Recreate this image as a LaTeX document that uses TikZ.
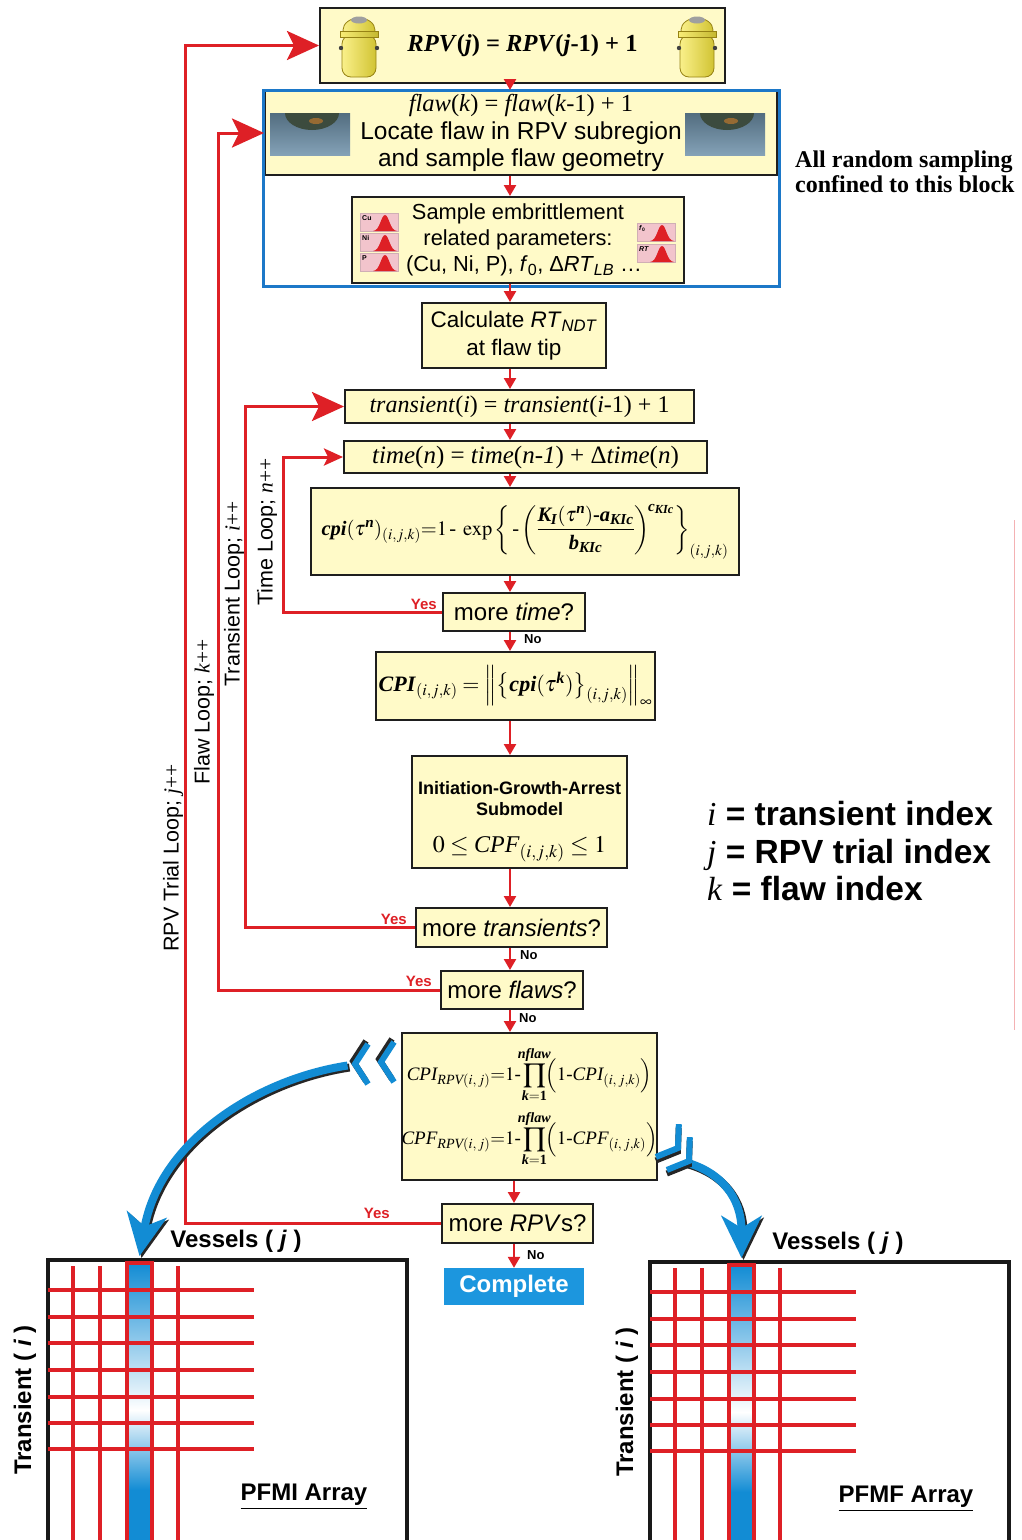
\documentclass[tikz,border=0pt]{standalone}
\usepackage{amsmath}
\usepackage{mathtools}
\usepackage{mathptmx}
\usepackage{fontspec}
\setmainfont{Liberation Serif}
\setsansfont{Liberation Sans}
\usetikzlibrary{arrows.meta,positioning,calc}

\definecolor{boxfill}{RGB}{255,250,200}
\definecolor{boxedge}{RGB}{30,30,30}
\definecolor{flowred}{RGB}{222,32,38}
\definecolor{frameblue}{RGB}{28,120,200}
\definecolor{doneblue}{RGB}{28,150,222}
\definecolor{colblue}{RGB}{18,140,212}
\definecolor{iconpink}{RGB}{242,196,204}
\definecolor{vesselyellow}{RGB}{246,230,60}
\definecolor{vesseledge}{RGB}{150,130,20}
\definecolor{photoblue}{RGB}{110,145,170}
\definecolor{photodark}{RGB}{60,75,62}

\newcommand{\fsz}[2]{\fontsize{#1}{#2}\selectfont}
\newcommand{\bfit}[1]{\textbf{\textit{#1}}}

\begin{document}
\begin{tikzpicture}[x=1pt, y=-1pt,
  box/.style={draw=boxedge, line width=2pt, fill=boxfill, inner sep=0pt, align=center},
  flow/.style={draw=flowred, line width=2.4pt, -{Triangle[length=11pt,width=12pt]}},
  loopline/.style={draw=flowred, line width=3pt},
  bigtip/.style={-{Stealth[length=32pt,width=29pt,inset=7pt]}},
  smalltip/.style={-{Stealth[length=19pt,width=17pt,inset=4pt]}},
  yes/.style={text=flowred, font=\sffamily\bfseries\fsz{15}{16}, inner sep=0pt},
  no/.style={font=\sffamily\bfseries\fsz{13}{14}, inner sep=0pt},
  looplabel/.style={rotate=90, font=\sffamily\fsz{21.5}{24}, inner sep=0pt},
  gridred/.style={draw=flowred, line width=3.2pt},
  swoosh/.style={draw=colblue, line width=8pt, -{Stealth[length=42pt,width=40pt,inset=12pt]}}]
  \tikzset{
    vessel/.pic={
      \shadedraw[left color=vesselyellow!60!white, right color=vesselyellow!85!black, draw=vesseledge, line width=0.8pt]
        (0,-16) ellipse [x radius=16, y radius=12];
      \fill[gray!75] (0,-26) ellipse [x radius=8, y radius=3.5];
      \shadedraw[left color=vesselyellow!60!white, right color=vesselyellow!85!black, draw=vesseledge, line width=0.8pt, rounded corners=9pt]
        (-17,-11) rectangle (17,31);
      \shadedraw[left color=vesselyellow!70!white, right color=vesselyellow!80!black, draw=vesseledge, line width=0.8pt]
        (-19,-15) rectangle (19,-9);
      \fill[black!75] (-18,2) circle [radius=2.2];
      \fill[black!75] (18,2) circle [radius=2.2];
    },
    flawphoto/.pic={
      \shade[top color=photoblue!75!black, bottom color=photoblue!85!white] (0,0) rectangle (80,42);
      \begin{scope}
        \clip (0,0) rectangle (80,42);
        \fill[photodark] (42,0) ellipse [x radius=27, y radius=17];
        \fill[brown!70!orange, opacity=0.6] (46,8) ellipse [x radius=7, y radius=3];
      \end{scope}
    },
    pdficon/.pic={
      \fill[iconpink] (0,0) rectangle (38,18);
      \draw[iconpink!70!gray, line width=0.6pt] (0,0) rectangle (38,18);
      \fill[flowred] (13,18) .. controls (20,18) and (21,2) .. (25,2) .. controls (29,2) and (30,18) .. (37,18) -- cycle;
      \node[font=\sffamily\bfseries\fsz{7}{7}, anchor=north west, inner sep=0.5pt] (-lbl) at (1.5,1.5) {\tikzpictext};
    },
    chevron/.pic={
      \draw[black!85, line width=6pt] (-11,-17) -- (2,3) -- (-11,23);
      \draw[colblue, line width=6pt] (-13,-20) -- (0,0) -- (-13,20);
    },
    simarray/.pic={
      \shade[top color=colblue, bottom color=white] (79,3) rectangle (104,150);
      \shade[top color=white, bottom color=colblue] (79,150) rectangle (104,230);
      \fill[colblue] (79,230) rectangle (104,290);
      \draw[black!90, line width=3.2pt] (0,290) -- (0,0) -- (359,0) -- (359,290);
      \foreach \gx in {25,52,130}
        \draw[gridred] (\gx,6) -- (\gx,290);
      \draw[gridred] (79,290) -- (79,3) -- (104,3) -- (104,290);
      \foreach \gy in {30,57,83,110,137,163,189}
        \draw[gridred] (0,\gy) -- (206,\gy);
      \coordinate (-coltop) at (91.5,-4);
      \node[font=\sffamily\bfseries\fsz{24}{28}] (-vessels) at (188,-19) {Vessels ( \textit{j} )};
      \node[rotate=90, font=\sffamily\bfseries\fsz{24}{28}] (-transient) at (-23,140) {Transient ( \textit{i} )};
      \node[font=\sffamily\bfseries\fsz{24}{28}] (-title) at (256,237) {\underline{\tikzpictext}};
    }
  }
  \useasboundingbox (0,0) rectangle (1021,1540);
  \fill[white] (0,0) rectangle (1021,1540);

  % main column of boxes
  \node[box, minimum width=405pt, minimum height=75pt, font=\rmfamily\bfseries\fsz{24.5}{28}] (rpvbox) at (522.5,45.5)
    {\textit{RPV}(\textit{j}) = \textit{RPV}(\textit{j}-1) + 1};
  \pic (vesL) at (359,46) {vessel};
  \pic (vesR) at (697,46) {vessel};

  \node[box, minimum width=512pt, minimum height=84pt, font=\sffamily\fsz{24.5}{27.5}] (flawbox) at (521,133)
    {{\rmfamily\textit{flaw}(\textit{k}) = \textit{flaw}(\textit{k}-1) + 1}\\Locate flaw in RPV subregion\\and sample flaw geometry};
  \pic (photoL) at (270,113) {flawphoto};
  \pic (photoR) at (685,113) {flawphoto};

  \node[box, minimum width=332pt, minimum height=86pt, font=\sffamily\fsz{21.8}{26}] (samplebox) at (518,240)
    {Sample embrittlement\\related parameters:\\\hspace{12pt}(Cu, Ni, P), \textit{f}\textsubscript{0}, Δ\textit{RT}\textsubscript{\textit{LB}} …};
  \pic[pic text=Cu] (icCu) at (360,213) {pdficon};
  \pic[pic text=Ni] (icNi) at (360,233) {pdficon};
  \pic[pic text=P] (icP) at (360,253) {pdficon};
  \pic[pic text={\textit{f}\textsubscript{0}}] (icf) at (637,223) {pdficon};
  \pic[pic text={\textit{RT}}] (icRT) at (637,244) {pdficon};

  \node[draw=frameblue, line width=3pt, minimum width=516pt, minimum height=196pt, inner sep=0pt] (randblock) at (521,188) {};

  \node[box, minimum width=184pt, minimum height=65pt, font=\sffamily\fsz{22.5}{28}] (calcbox) at (514,335.5)
    {Calculate \textit{RT}\textsubscript{\textit{NDT}}\\at flaw tip};
  \node[box, minimum width=349pt, minimum height=33pt, font=\rmfamily\fsz{24}{28}] (transbox) at (519.5,406.5)
    {\textit{transient}(\textit{i}) = \textit{transient}(\textit{i}-1) + 1};
  \node[box, minimum width=363pt, minimum height=32pt, font=\rmfamily\fsz{25}{28}] (timebox) at (525.5,457)
    {\textit{time}(\textit{n}) = \textit{time}(\textit{n-1}) + Δ\textit{time}(\textit{n})};
  \node[box, minimum width=428pt, minimum height=87pt, font=\rmfamily\fsz{20.5}{24}] (cpibox) at (525,531.5)
    {$\bfit{cpi}(\tau^{\bfit{n}})_{(i,j,k)}{=}1\,\text{-}\;\exp\left\{\,\text{-}\left(\dfrac{\bfit{K}_{\!\bfit{I}}(\tau^{\bfit{n}})\textbf{-}\bfit{a}_{\bfit{KIc}}}{\bfit{b}_{\bfit{KIc}}}\right)^{\!\bfit{c}_{\bfit{KIc}}}\right\}_{(i,j,k)}$};
  \node[box, minimum width=142pt, minimum height=38pt, font=\sffamily\fsz{24}{28}] (moretime) at (514,612) {more \textit{time}?};
  \node[box, minimum width=279pt, minimum height=68pt, font=\rmfamily\fsz{22}{26}] (CPIbox) at (515.5,686)
    {$\bfit{CPI}_{(i,j,k)} = \Bigl\|\bigl\{\bfit{cpi}(\tau^{\bfit{k}})\bigr\}_{(i,j,k)}\Bigr\|_{\infty}$};
  \node[box, minimum width=215pt, minimum height=112pt, font=\sffamily\bfseries\fsz{18}{21}] (igabox) at (519.5,812)
    {\rule{0pt}{33pt}Initiation-Growth-Arrest\\Submodel\\[16pt]{\rmfamily\mdseries\fsz{24}{28}$0\le\textit{CPF}_{(i,j,k)}\le1$}};
  \node[box, minimum width=191pt, minimum height=39pt, font=\sffamily\fsz{24}{28}] (moretrans) at (511.5,927.5) {more \textit{transients}?};
  \node[box, minimum width=142pt, minimum height=38pt, font=\sffamily\fsz{24}{28}] (moreflaws) at (512,990) {more \textit{flaws}?};
  \node[box, minimum width=253pt, minimum height=147pt, font=\rmfamily\fsz{19}{22}] (rpvcpibox) at (529.5,1106.5)
    {$\displaystyle\textit{CPI}_{\textit{RPV}(i,\,j)}{=}1\text{-}\prod_{\mathclap{\bfit{k}=\textbf{1}}}^{\mathclap{\bfit{nflaw}}}\Bigl(1\text{-}\textit{CPI}_{(i,\,j,k)}\Bigr)$\\[8pt]
     $\displaystyle\textit{CPF}_{\textit{RPV}(i,\,j)}{=}1\text{-}\prod_{\mathclap{\bfit{k}=\textbf{1}}}^{\mathclap{\bfit{nflaw}}}\Bigl(1\text{-}\textit{CPF}_{(i,\,j,k)}\Bigr)$};
  \node[box, minimum width=151pt, minimum height=39pt, font=\sffamily\fsz{24}{28}] (morerpv) at (517.5,1223.5) {more \textit{RPV}s?};
  \node[fill=doneblue, minimum width=140pt, minimum height=37pt, inner sep=0pt, text=white, font=\sffamily\bfseries\fsz{24}{28}] (complete) at (514,1286.5) {Complete};

  % downward flow
  \coordinate (spine) at (510,0);
  \coordinate (spinelow) at (514,0);
  \foreach \a/\b in {rpvbox/flawbox, flawbox/samplebox, samplebox/calcbox, calcbox/transbox, transbox/timebox,
                     timebox/cpibox, cpibox/moretime, moretime/CPIbox, CPIbox/igabox, igabox/moretrans,
                     moretrans/moreflaws, moreflaws/rpvcpibox}
    \draw[flow] (\a.south -| spine) -- (\b.north -| spine);
  \draw[flow] (rpvcpibox.south -| spinelow) -- (morerpv.north -| spinelow);
  \draw[flow] (morerpv.south -| spinelow) -- (complete.north -| spinelow);

  % loops back
  \coordinate (tloop) at (283,0);
  \coordinate (iloop) at (245,0);
  \coordinate (kloop) at (218,0);
  \coordinate (jloop) at (185,0);
  \draw[loopline, smalltip] (moretime.west) -- (moretime.west -| tloop) |- (timebox.west);
  \draw[loopline, bigtip] (moretrans.west) -- (moretrans.west -| iloop) |- (transbox.west);
  \draw[loopline, bigtip] (moreflaws.west) -- (moreflaws.west -| kloop) |- (flawbox.west);
  \draw[loopline, bigtip] (morerpv.west) -- (morerpv.west -| jloop) |- (rpvbox.west);

  \node[looplabel] (timelabel) at (267,532) {Time Loop; {\rmfamily\textit{n}++}};
  \node[looplabel] (translabel) at (234,594) {Transient Loop; {\rmfamily\textit{i}++}};
  \node[looplabel] (flawlabel) at (204,712) {Flaw Loop; {\rmfamily\textit{k}++}};
  \node[looplabel] (rpvlabel) at (173,858) {RPV Trial Loop; {\rmfamily\textit{j}++}};

  \node[yes, anchor=south east] (yestime) at ([xshift=-5pt,yshift=2pt]moretime.west) {Yes};
  \node[yes, anchor=south east] (yestrans) at ([xshift=-8pt,yshift=3pt]moretrans.west) {Yes};
  \node[yes, anchor=south east] (yesflaw) at ([xshift=-8pt,yshift=3pt]moreflaws.west) {Yes};
  \node[yes, anchor=south east] (yesrpv) at ([xshift=-51pt,yshift=5pt]morerpv.west) {Yes};
  \node[no, anchor=north west] (notime) at ([xshift=14pt,yshift=-2pt]moretime.south -| spine) {No};
  \node[no, anchor=north west] (notrans) at ([xshift=10pt,yshift=-2pt]moretrans.south -| spine) {No};
  \node[no, anchor=north west] (noflaw) at ([xshift=9pt,yshift=-3pt]moreflaws.south -| spine) {No};
  \node[no, anchor=north west] (norpv) at ([xshift=13pt,yshift=-6pt]morerpv.south -| spinelow) {No};

  % result arrays
  \pic[pic text=PFMI Array] (leftarr) at (48,1260) {simarray};
  \pic[pic text=PFMF Array] (rightarr) at (650,1262) {simarray};

  % blue swooshes to the arrays
  \draw[swoosh, draw=black!85, transform canvas={shift={(2pt,-2pt)}}]
    ($(rpvcpibox.west)+(-53,-41)$) .. controls +(-92,14) and +(20,-114) .. (leftarr-coltop);
  \draw[swoosh] ($(rpvcpibox.west)+(-53,-41)$) .. controls +(-92,14) and +(20,-114) .. (leftarr-coltop);
  \pic[rotate=180] (chevL1) at (355,1064) {chevron};
  \pic[rotate=180] (chevL2) at (381,1062) {chevron};
  \draw[swoosh, draw=black!85, transform canvas={shift={(2pt,-2pt)}}]
    ($(rpvcpibox.east)+(28,56)$) .. controls +(35,10) and +(0,-60) .. (rightarr-coltop);
  \draw[swoosh] ($(rpvcpibox.east)+(28,56)$) .. controls +(35,10) and +(0,-60) .. (rightarr-coltop);
  \pic[rotate=-35] (chevR1) at (678,1148) {chevron};
  \pic[rotate=-35] (chevR2) at (689,1161) {chevron};

  % side notes
  \node[anchor=base west, font=\rmfamily\bfseries\fsz{24}{26}, inner sep=0pt] (note1) at (795,167) {All random sampling};
  \node[anchor=base west, font=\rmfamily\bfseries\fsz{24}{26}, inner sep=0pt] (note2) at (795,192) {confined to this block};
  \node[anchor=base west, font=\sffamily\bfseries\fsz{33.5}{37}, inner sep=0pt] (legi) at (707,825) {{\rmfamily\mdseries\textit{i}} = transient index};
  \node[anchor=base west, font=\sffamily\bfseries\fsz{33.5}{37}, inner sep=0pt] (legj) at (707,863) {{\rmfamily\mdseries\textit{j}} = RPV trial index};
  \node[anchor=base west, font=\sffamily\bfseries\fsz{33.5}{37}, inner sep=0pt] (legk) at (707,900) {{\rmfamily\mdseries\textit{k}} = flaw index};
  \draw[flowred!35, line width=1pt] (1014,520) -- (1014,1030);
\end{tikzpicture}
\end{document}
